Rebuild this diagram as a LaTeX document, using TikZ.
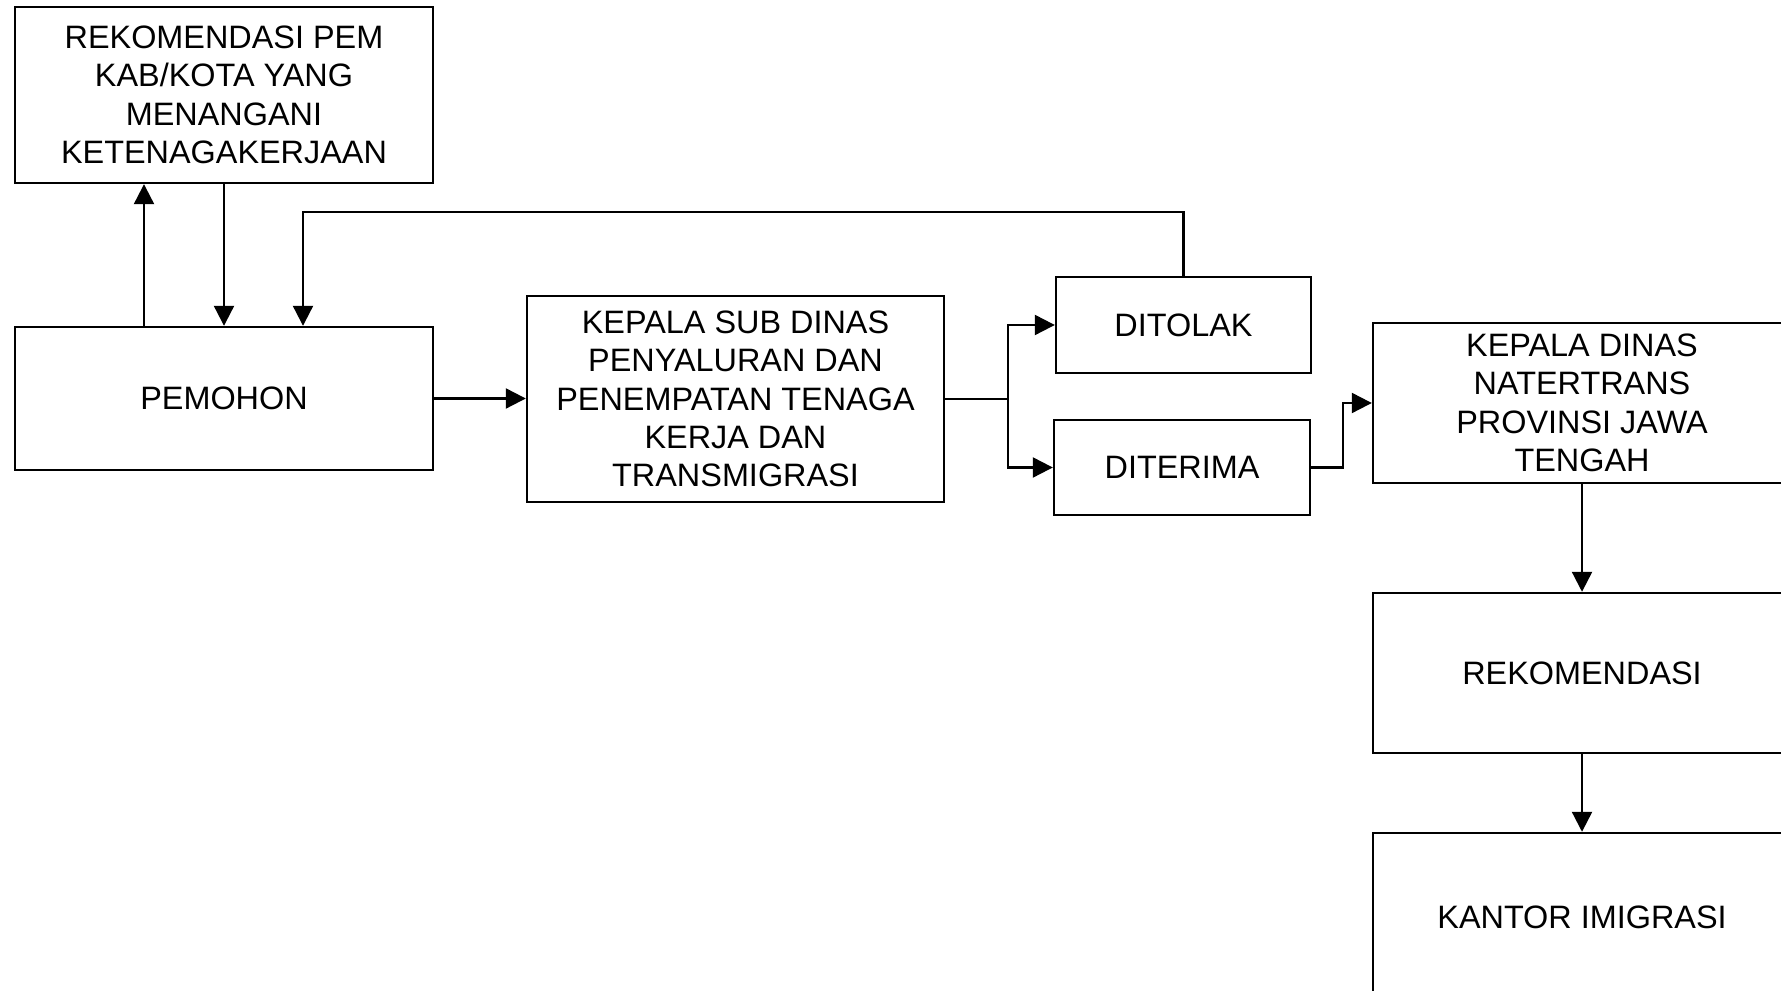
\documentclass[tikz,border=0pt]{standalone}
\usepackage{fontspec}
\setmainfont{Liberation Sans}
\usetikzlibrary{arrows.meta}
\tikzset{
    kotak/.style={draw,line width=1.2pt,align=center,inner sep=0pt,font=\fontsize{16.2}{19.2}\selectfont},
    panah/.style={line width=1.1pt,-{Triangle[length=10pt,width=10pt]}},
    garis/.style={line width=1.1pt}
}

\begin{document}
\begin{tikzpicture}[x=0.5pt,y=0.5pt]
            \useasboundingbox (0,0) rectangle (1781,990);
            \node[kotak,minimum width=209pt,minimum height=88pt] (rekompem) at (224,895) {REKOMENDASI PEM\\KAB/KOTA YANG\\MENANGANI\\KETENAGAKERJAAN};
            \node[kotak,minimum width=209pt,minimum height=71.5pt] (pemohon) at (224,591.5) {PEMOHON};
            \node[kotak,minimum width=208.5pt,minimum height=103pt] (subdinas) at (735.5,591) {KEPALA SUB DINAS\\PENYALURAN DAN\\PENEMPATAN TENAGA\\KERJA DAN\\TRANSMIGRASI};
            \node[kotak,minimum width=127.5pt,minimum height=48pt] (ditolak) at (1183.5,665) {DITOLAK};
            \node[kotak,minimum width=128pt,minimum height=47.5pt] (diterima) at (1182,522.5) {DITERIMA};
            \node[kotak,minimum width=209pt,minimum height=80pt] (kadis) at (1582,587) {KEPALA DINAS\\NATERTRANS\\PROVINSI JAWA\\TENGAH};
            \node[kotak,minimum width=209pt,minimum height=80pt] (rekomendasi) at (1582,317) {REKOMENDASI};
            \node[kotak,minimum width=209pt,minimum height=84pt] (kantor) at (1582,73) {KANTOR IMIGRASI};

            \draw[panah] ([xshift=-40pt]pemohon.north) -- ([xshift=-40pt]pemohon.north |- rekompem.south);
            \draw[panah] (rekompem.south) -- (pemohon.north);
            \draw[panah] (ditolak.north) -- ++(0,64) -| ([xshift=39.5pt]pemohon.north);
            \draw[panah] (pemohon.east) -- (pemohon.east -| subdinas.west);
            \draw[garis] (subdinas.east) -- ++(63,0) coordinate (cabang);
            \draw[panah] (cabang) |- (ditolak.west);
            \draw[panah] (cabang) |- (diterima.west);
            \draw[panah] (diterima.east) -- ++(32,0) |- (kadis.west);
            \draw[panah] (kadis.south) -- (rekomendasi.north);
            \draw[panah] (rekomendasi.south) -- (kantor.north);
        \end{tikzpicture}
\end{document}
